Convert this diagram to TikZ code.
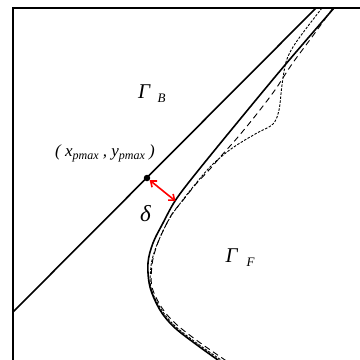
\documentclass[tikz,border=0pt]{standalone}
\usepackage{fontspec}
\setmainfont{Liberation Serif}
\usetikzlibrary{arrows.meta}
\begin{document}
\begin{tikzpicture}[x=1pt,y=-1pt,
  frameline/.style={line width=1.5pt},
  curve/.style={line width=1.6pt, line join=round, line cap=round},
  sdash/.style={line width=0.9pt, dash pattern=on 2.5pt off 1.5pt},
  ldash/.style={line width=0.9pt, dash pattern=on 6pt off 4pt},
  lbl/.style={inner sep=0pt, font=\itshape},
  barb/.style={red, line width=1.6pt, {Straight Barb[length=5pt,width=8pt]}-{Straight Barb[length=5pt,width=8pt]}}]
\useasboundingbox (0,0) rectangle (360,360);
% frame
\draw[frameline] (362,8) -- (13,8) -- (13,362);
% boundary line of Gamma_B
\coordinate (b1) at (13,312);
\coordinate (b2) at (316,8);
\draw[curve] (b1) -- (b2);
% long dashed curve
\draw[ldash] plot[smooth, tension=0.55] coordinates {(333,8) (312,37) (292,64) (275,90) (256,115) (238,137) (222,155) (210,169) (196,184) (184,199) (172,214) (163,231) (156,248) (152,265) (152,287) (162,308) (176,324) (199,342) (228,362)};
% short dashed curve
\draw[sdash] plot[smooth, tension=0.55] coordinates {(322,8) (305,30) (293,47) (286,62) (282,85) (279,110) (273,124) (257,133) (240,143) (227,152) (210,167) (193,187) (182,201) (171,216) (162,233) (155,250) (151,266) (151,288) (161,309) (175,326) (198,344) (227,364)};
% solid curve (Gamma_F boundary)
\draw[curve] plot[smooth, tension=0.55] coordinates {(334,8) (285,65) (232,129) (193,177) (175,201) (163,223) (153,243) (148,263) (150,287) (160,310) (174,327) (197,345) (225,365)};
% point and distance
\node[circle, fill=black, inner sep=0pt, minimum size=6.5pt] (pmax) at (147,178) {};
\coordinate (foot) at (175.5,201);
\draw[barb] (pmax) -- (foot);
% labels
\node[lbl, font=\itshape\fontsize{21}{21}\selectfont] (gB) at (144,92) {Γ};
\node[lbl, font=\itshape\fontsize{13}{13}\selectfont] (gBs) at (161.5,98.5) {B};
\node[lbl, font=\itshape\fontsize{21}{21}\selectfont] (gF) at (231.5,256) {Γ};
\node[lbl, font=\itshape\fontsize{13}{13}\selectfont] (gFs) at (250.5,262.5) {F};
\node[lbl, font=\itshape\fontsize{23}{23}\selectfont] (delta) at (145.5,214) {δ};
\node[lbl, font=\itshape\fontsize{17}{17}\selectfont] (ptxt) at (105,153)
  {( x{\fontsize{12}{12}\selectfont\raisebox{-3pt}{pmax}} , y{\fontsize{12}{12}\selectfont\raisebox{-3pt}{pmax}} )};
\end{tikzpicture}
\end{document}
